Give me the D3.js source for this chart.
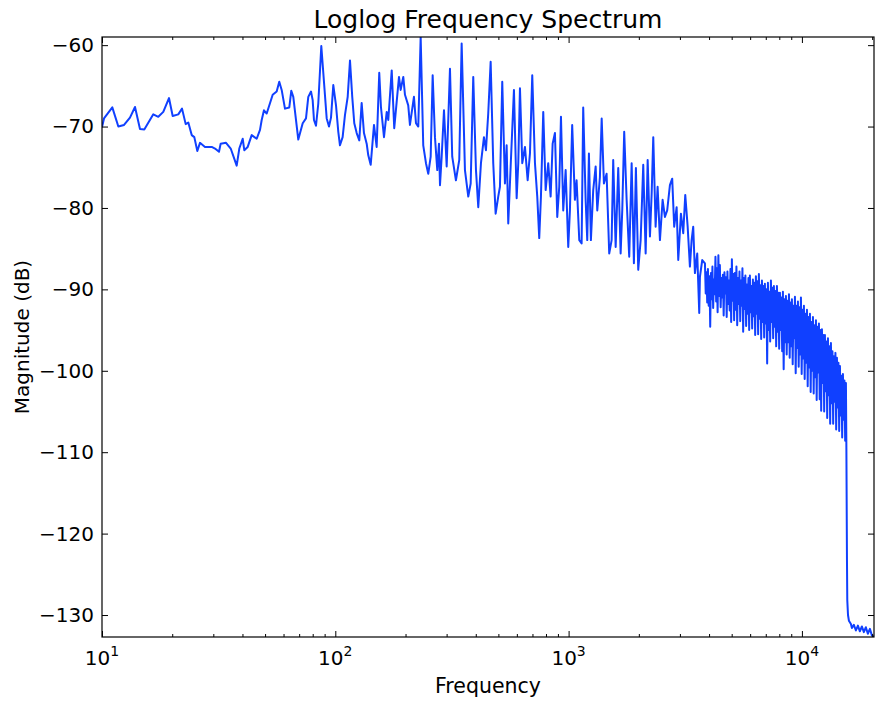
<!DOCTYPE html>
<html><head><meta charset="utf-8">
<script src="https://cdn.jsdelivr.net/npm/d3@7/dist/d3.min.js"></script>
<style>body{margin:0;background:#fff} text{font-family:"DejaVu Sans",sans-serif;fill:#000}</style>
</head><body><svg id="c" width="875" height="704"></svg>
<script>
// ---- data ----
const freqs = [
10.0,10.2,11.07,11.75,12.43,13.18,13.85,14.55,15.18,16.59,17.43,18.31,19.37,20.09,21.23,22.03,22.84,23.44,24.24,24.87,
25.62,26.30,27.63,29.53,30.50,31.73,32.26,34.01,35.62,37.78,38.77,40.09,40.73,42.12,43.81,46.03,47.56,48.36,49.46,50.81,
53.90,56.06,57.52,58.90,60.85,63.51,64.77,66.06,69.40,72.49,74.88,76.60,78.67,79.98,81.02,82.64,84.53,87.09,91.86,93.96,
95.84,98.04,100.7,103.0,104.7,107.5,110.0,113.0,115.6,118.2,120.6,123.5,126.7,129.7,132.7,136.3,138.4,141.8,146.5,150.4,
154.3,156.9,161.7,166.1,168.7,174.5,178.9,183.2,187.5,190.6,195.6,198.9,205.4,208.9,217.3,221.7,226.8,232.2,238.2,244.7,
250.3,256.3,261.4,267.4,273.6,278.2,281.0,285.7,292.3,300.2,310.1,317.1,328.9,339.9,348.0,359.5,371.5,380.4,390.2,400.8,
410.0,421.0,433.7,442.3,452.4,463.3,475.3,486.7,499.3,507.8,519.5,533.5,542.5,551.2,564.4,583.1,598.9,608.5,618.7,633.0,
650.0,667.5,682.9,698.5,717.4,733.9,748.4,761.1,778.6,797.3,817.8,837.5,854.3,873.8,894.0,911.9,927.4,948.4,971.2,996.5,
1013,1036,1064,1082,1111,1137,1155,1183,1202,1222,1246,1275,1306,1327,1362,1386,1417,1455,1493,1529,
1553,1591,1632,1671,1698,1731,1773,1819,1863,1905,1943,1988,2036,2089,2139,2182,2232,2270,2306,2360,
2407,2463,2529,2587,2646,2718,2780,2835,2904,2951,3030,3100,3162,3238,3311,3367,3421,3479,3559,3630,
3655,3739,
3840,3870,3900,3927,3955,3985,4015,4045,4075,4105,4135,4165,4195,4227,4260,4290,4320,4352,4385,4417,
4450,4485,4520,4552,4585,4620,4655,4690,4725,4760,4795,4830,4865,4902,4940,4975,5010,5047,5085,5122,
5160,5200,5240,5280,5320,5360,5400,5440,5480,5520,5560,5600,5640,5682,5725,5767,5810,5855,5900,5942,
5985,6030,6075,6120,6165,6212,6260,6305,6350,6397,6445,6492,6540,6590,6640,6690,6740,6790,6840,6890,
6940,6992,7045,7097,7150,7202,7255,7310,7365,7420,7475,7530,7585,7642,7700,7757,7815,7872,7930,7990,
8050,8110,8170,8230,8290,8352,8415,8477,8540,8605,8670,8735,8800,8865,8930,8995,9060,9130,9200,9267,
9335,9405,9475,9545,9615,9687,9760,9832,9905,9977,10050,10125,10200,10277,10355,10432,10510,10587,10665,10745,
10825,10905,10985,11067,11150,11232,11315,11400,11485,11570,11655,11742,11830,11917,12005,12095,12185,12275,12365,12457,
12550,12645,12740,12835,12930,13025,13120,13217,13315,13415,13515,13615,13715,13817,13920,14025,14130,14235,14340,14447,
14555,14662,14770,14880,14990,15102,15215,15327,15440,
15510,15600,15650,15760,15900,16220,16380,16700,17040,17380,17720,18070,18430,18800,19170,19560,19950,20370
];
const mags = [
-70.1,-69.0,-67.65,-70.0,-69.8,-68.9,-67.6,-70.3,-70.35,-68.5,-68.8,-68.2,-66.5,-68.7,-68.5,-67.8,-69.7,-69.5,-71.05,-71.3,
-73.0,-72.0,-72.5,-72.5,-72.7,-73.1,-72.1,-72.0,-72.7,-74.8,-72.7,-71.5,-72.9,-72.5,-71.05,-71.5,-70.4,-69.2,-68.0,-68.4,
-66.1,-65.7,-64.5,-65.5,-67.8,-67.65,-65.6,-66.35,-71.6,-69.6,-69.0,-66.35,-65.7,-66.75,-69.2,-69.9,-67.2,-60.1,-69.0,-70.0,
-68.9,-64.9,-67.4,-70.65,-72.3,-71.3,-68.6,-66.35,-61.9,-66.35,-69.6,-70.8,-71.7,-67.1,-70.8,-72.1,-73.5,-74.7,-69.8,-72.5,
-63.4,-67.6,-71.3,-68.2,-69.2,-63.1,-70.2,-67.0,-63.9,-65.5,-63.9,-66.1,-67.4,-69.8,-66.35,-69.6,-70.0,-59.0,-72.3,-74.5,
-75.8,-73.7,-63.7,-71.3,-75.35,-72.1,-77.2,-73.7,-68.0,-74.9,-62.9,-73.7,-76.6,-74.1,-59.8,-75.35,-78.6,-77.0,-63.9,-75.35,
-79.9,-74.5,-71.3,-72.9,-68.4,-62.05,-74.5,-80.7,-78.6,-77.4,-64.5,-77.0,-72.3,-81.9,-74.9,-65.5,-78.8,-74.5,-65.3,-74.5,
-72.5,-76.6,-73.3,-63.7,-74.5,-78.6,-83.7,-78.6,-68.2,-77.8,-74.5,-78.6,-72.1,-70.8,-81.1,-77.4,-68.8,-80.3,-75.35,-84.8,
-80.3,-69.8,-79.0,-76.6,-83.95,-84.35,-67.65,-79.0,-83.95,-73.3,-83.95,-77.8,-74.9,-80.3,-76.2,-69.0,-77.0,-75.8,-85.6,-83.95,
-74.1,-84.8,-75.1,-85.6,-80.3,-70.65,-79.0,-86.0,-74.5,-86.8,-75.1,-87.6,-83.95,-74.7,-85.6,-74.1,-83.5,-78.2,-71.3,-82.3,
-77.4,-83.95,-79.0,-81.1,-80.3,-77.2,-76.4,-82.3,-79.9,-86.4,-80.7,-83.1,-78.4,-82.3,-87.2,-83.95,-82.3,-88.0,-85.6,-92.9,
-88.45,-86.4,
-86.8,-90.5,-87.9,-91.6,-87.5,-92.0,-88.4,-94.6,-88.0,-91.2,
-87.2,-92.3,-88.8,-90.6,-86.0,-91.5,-87.4,-92.8,-85.8,-90.8,
-87.0,-92.2,-88.6,-91.0,-88.2,-93.2,-87.9,-90.5,-88.5,-93.4,
-87.8,-91.8,-88.9,-92.6,-87.5,-94.0,-86.3,-91.4,-88.1,-93.8,
-88.0,-92.5,-87.2,-94.4,-88.6,-91.8,-87.8,-93.9,-88.9,-92.0,
-87.4,-95.2,-88.6,-92.4,-88.3,-94.5,-89.4,-93.0,-88.6,-95.0,
-88.3,-92.8,-89.6,-94.8,-88.8,-93.3,-89.2,-95.6,-88.4,-93.0,
-89.0,-95.5,-88.1,-93.6,-89.5,-96.1,-88.9,-94.0,-89.6,-95.9,
-89.3,-94.2,-90.0,-99.1,-89.2,-95.0,-90.3,-96.4,-88.9,-94.0,
-89.8,-96.0,-89.6,-94.6,-90.2,-97.0,-89.6,-95.2,-90.4,-97.3,
-90.4,-95.0,-91.0,-97.6,-90.3,-99.8,-91.2,-96.5,-90.8,-98.0,
-91.4,-96.5,-90.6,-98.4,-91.6,-97.0,-91.2,-99.2,-92.0,-96.0,
-90.9,-100.3,-92.0,-97.2,-91.5,-99.5,-92.2,-98.0,-91.0,-100.4,
-92.5,-98.5,-92.0,-101.0,-93.0,-99.0,-92.5,-101.9,-93.4,-99.6,
-93.0,-102.6,-94.0,-100.0,-93.4,-102.8,-94.4,-100.8,-93.8,-103.6,
-94.6,-100.2,-94.2,-103.5,-95.0,-104.9,-94.9,-101.5,-95.6,-105.0,
-95.6,-102.5,-96.4,-105.8,-96.0,-103.0,-97.0,-106.5,-96.6,-104.0,
-97.6,-106.5,-98.2,-103.8,-97.8,-107.2,-98.4,-104.5,-99.0,-107.4,
-99.4,-105.5,-100.6,-108.2,-100.4,-106.0,-101.2,-108.6,-101.5,
-109.4,-123.2,-128.2,-130.0,-130.7,-131.1,-131.6,-131.2,-131.9,-131.3,-132.0,-131.4,-132.1,-131.5,-132.3,-131.7,-132.5,-132.7
];
const xMajorTicks = [10, 100, 1000, 10000];
const xTickExponents = ["1", "2", "3", "4"];
const xMinorTicks = [20,30,40,50,60,70,80,90,200,300,400,500,600,700,800,900,2000,3000,4000,5000,6000,7000,8000,9000,20000];
const yTicks = [-130, -120, -110, -100, -90, -80, -70, -60];
const titleText = "Loglog Frequency Spectrum";
const xLabelText = "Frequency";
const yLabelText = "Magnitude (dB)";

// ---- drawing ----
const W = 875, H = 704;
const m = {l: 102, r: 1, t: 37, b: 67};
const svg = d3.select("#c");
const x = d3.scaleLog().domain(d3.extent(freqs)).range([m.l, W - m.r]);
const y = d3.scaleLinear().domain(d3.extent(mags)).range([H - m.b, m.t]);
const data = freqs.map((f, i) => [f, mags[i]]);

svg.append("defs").append("clipPath").attr("id", "clip")
  .append("rect").attr("x", m.l).attr("y", m.t).attr("width", W - m.l - m.r).attr("height", H - m.t - m.b);

svg.append("path").datum(data)
  .attr("clip-path", "url(#clip)")
  .attr("fill", "none").attr("stroke", "#1040ff").attr("stroke-width", 2)
  .attr("stroke-linejoin", "round")
  .attr("d", d3.line().x(d => x(d[0])).y(d => y(d[1])));

function styleAxis(g) {
  g.select(".domain").remove();
  g.selectAll(".tick line").attr("stroke", "#000").attr("stroke-width", 1);
}
const fmtNone = () => "";
svg.append("g").attr("transform", `translate(0,${H - m.b})`)
  .call(d3.axisBottom(x).tickValues(xMajorTicks).tickSize(-6).tickFormat(fmtNone)).call(styleAxis);
svg.append("g").attr("transform", `translate(0,${H - m.b})`)
  .call(d3.axisBottom(x).tickValues(xMinorTicks).tickSize(-3).tickFormat(fmtNone)).call(styleAxis);
svg.append("g").attr("transform", `translate(0,${m.t})`)
  .call(d3.axisTop(x).tickValues(xMajorTicks).tickSize(-6).tickFormat(fmtNone)).call(styleAxis);
svg.append("g").attr("transform", `translate(0,${m.t})`)
  .call(d3.axisTop(x).tickValues(xMinorTicks).tickSize(-3).tickFormat(fmtNone)).call(styleAxis);
const yl = svg.append("g").attr("transform", `translate(${m.l},0)`)
  .call(d3.axisLeft(y).tickValues(yTicks).tickSize(-6).tickPadding(8).tickFormat(d => String(d).replace("-", "\u2212")))
  .call(styleAxis);
yl.selectAll(".tick text").attr("font-size", 20).attr("font-family", "DejaVu Sans").attr("fill", "#000");
svg.append("g").attr("transform", `translate(${W - m.r},0)`)
  .call(d3.axisRight(y).tickValues(yTicks).tickSize(-6).tickFormat(fmtNone)).call(styleAxis);

const xl = svg.append("g");
xMajorTicks.forEach((v, i) => {
  const t = xl.append("text").attr("x", x(v)).attr("y", 665).attr("text-anchor", "middle").attr("font-size", 20);
  t.append("tspan").text("10");
  t.append("tspan").attr("dy", -9).attr("font-size", 14).text(xTickExponents[i]);
});

svg.append("rect").attr("x", m.l).attr("y", m.t).attr("width", W - m.l - m.r).attr("height", H - m.t - m.b)
  .attr("fill", "none").attr("stroke", "#000").attr("stroke-width", 1.2);

svg.append("text").attr("x", (m.l + W - m.r) / 2).attr("y", 28).attr("text-anchor", "middle")
  .attr("font-size", 25).text(titleText);
svg.append("text").attr("x", (m.l + W - m.r) / 2).attr("y", 693).attr("text-anchor", "middle")
  .attr("font-size", 20.5).text(xLabelText);
svg.append("text").attr("transform", `translate(29,${(m.t + H - m.b) / 2}) rotate(-90)`).attr("text-anchor", "middle")
  .attr("font-size", 20).text(yLabelText);
</script></body></html>
